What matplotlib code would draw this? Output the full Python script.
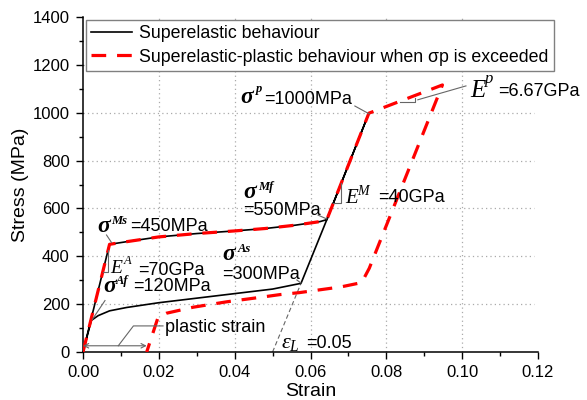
import matplotlib
matplotlib.use('Agg')
import matplotlib.pyplot as plt
from matplotlib.ticker import MultipleLocator, FormatStrFormatter

plt.rcParams['font.family'] = ['Liberation Sans', 'DejaVu Sans']
plt.rcParams['mathtext.fontset'] = 'custom'
plt.rcParams['mathtext.rm'] = 'Liberation Serif'
plt.rcParams['mathtext.it'] = 'Liberation Serif:italic'
plt.rcParams['mathtext.bf'] = 'Liberation Serif:bold:italic'

# ---- data ----
se_strain = [0, 0.007, 0.0115, 0.02, 0.03, 0.04, 0.048, 0.056, 0.0625, 0.0643, 0.0754,
             0.0643, 0.0575, 0.05, 0.04, 0.03, 0.02, 0.0115, 0.007, 0.004, 0.0022, 0]
se_stress = [0, 450, 461, 481, 495, 506, 516, 530, 545, 553, 998,
             553, 287, 263, 244, 225, 206, 186, 172, 152, 132, 0]

sp_strain = [0, 0.007, 0.0115, 0.02, 0.03, 0.04, 0.048, 0.056, 0.0625, 0.0643, 0.0754,
             0.0948, 0.0755, 0.0735, 0.068, 0.0625, 0.057, 0.052, 0.047, 0.038, 0.029,
             0.022, 0.0198, 0.0168]
sp_stress = [0, 450, 461, 481, 495, 506, 516, 530, 545, 553, 998,
             1116, 350, 290, 272, 260, 248, 240, 229, 210, 187,
             162, 145, 0]

epsL_strain = [0.05, 0.0575]
epsL_stress = [0, 287]

xticks = [0.00, 0.02, 0.04, 0.06, 0.08, 0.10, 0.12]
yticks = [0, 200, 400, 600, 800, 1000, 1200, 1400]

label_se = 'Superelastic behaviour'
label_sp = 'Superelastic-plastic behaviour when σp is exceeded'

fig = plt.figure(figsize=(5.87, 4.0), dpi=100)
ax = fig.add_axes([83 / 587, 48 / 400, 455 / 587, 335 / 400])
ax.set_xlim(0, 0.12)
ax.set_ylim(0, 1400)

# grid (dotted)
gkw = dict(color='#aaaaaa', lw=0.9, linestyle=(0, (1, 2.5)), zorder=0)
for xv in xticks[1:-1]:
    ax.plot([xv, xv], [0, 1400], **gkw)
for yv in yticks[1:-1]:
    ax.plot([0, 0.119], [yv, yv], **gkw)

# epsilon_L guide
ax.plot(epsL_strain, epsL_stress, color='#666666', lw=0.8, linestyle=(0, (4, 2.5)), zorder=1)

l1, = ax.plot(se_strain, se_stress, color='black', lw=1.2, zorder=2, label=label_se)
l2, = ax.plot(sp_strain, sp_stress, color='#ff0000', lw=2.3, linestyle=(0, (4.6, 3.4)),
              zorder=3, label=label_sp)

# slope triangles and leader lines
gray = '#666666'
lkw = dict(color=gray, lw=0.8, zorder=4)
ax.plot([0.0052, 0.0067, 0.0067], [336, 336, 428], **lkw)          # E^A
ax.plot([0.0660, 0.0680, 0.0680], [623, 623, 705], **lkw)          # E^M
ax.plot([0.0836, 0.0876, 0.0876], [1044, 1044, 1062], **lkw)       # E^p
ax.plot([0.0883, 0.1010], [1054, 1112], **lkw)                     # E^p leader
ax.plot([0.0717, 0.0755], [1028, 995], **lkw)                      # sigma^p
ax.plot([0.0620, 0.0643], [572, 556], **lkw)                       # sigma^Mf
ax.plot([0.0062, 0.0075], [489, 458], **lkw)                       # sigma^Ms
ax.plot([0.0564, 0.0575], [301, 288], **lkw)                       # sigma^As
ax.plot([0.0058, 0.0025], [215, 137], **lkw)                       # sigma^Af
ax.plot([0.0211, 0.0133, 0.0093], [109, 109, 26], **lkw)           # plastic strain
ax.annotate('', xy=(0.0, 26), xytext=(0.0168, 26),
            arrowprops=dict(arrowstyle='<->', color=gray, lw=0.8,
                            shrinkA=0, shrinkB=0, mutation_scale=8), zorder=4)

# annotation texts
serif_bi = dict(family='Liberation Serif', weight='bold', style='italic',
                ha='left', va='baseline')
serif_i = dict(family='Liberation Serif', style='italic', ha='left', va='baseline')
val = dict(fontsize=13, ha='left', va='baseline')


def sigma(x, y, sx, sy, sup):
    ax.text(x, y, 'σ', fontsize=17, **serif_bi)
    ax.text(sx, sy, sup, fontsize=9, **serif_bi)


def modulus(x, y, sx, sy, sup, size, supsize):
    ax.text(x, y, 'E', fontsize=size, **serif_i)
    ax.text(sx, sy, sup, fontsize=supsize, **serif_i)


sigma(0.0414, 1041, 0.0455, 1087, 'p')
ax.text(0.0478, 1036, '=1000MPa', **val)
modulus(0.1021, 1067, 0.1060, 1124, 'p', 18, 12)
ax.text(0.1094, 1070, '=6.67GPa', **val)
sigma(0.0422, 644, 0.0462, 677, 'Mf')
ax.text(0.0422, 572, '=550MPa', **val)
modulus(0.0691, 621, 0.0723, 656, 'M', 15, 10)
ax.text(0.0778, 628, '=40GPa', **val)
sigma(0.0037, 501, 0.0073, 535, 'Ms')
ax.text(0.0124, 506, '=450MPa', **val)
modulus(0.0071, 331, 0.0106, 366, 'A', 14, 9)
ax.text(0.0145, 322, '=70GPa', **val)
sigma(0.0053, 249, 0.0086, 283, 'Af')
ax.text(0.0131, 255, '=120MPa', **val)
sigma(0.0367, 384, 0.0407, 418, 'As')
ax.text(0.0367, 305, '=300MPa', **val)
ax.text(0.0216, 83, 'plastic strain', **val)
ax.text(0.0522, 17, r'$\varepsilon_{L}$', fontsize=16, ha='left', va='baseline')
ax.text(0.0588, 17, '=0.05', **val)

# axes styling
for s in ['top', 'right']:
    ax.spines[s].set_visible(False)
for s in ['left', 'bottom']:
    ax.spines[s].set_linewidth(1.1)
ax.set_xticks(xticks)
ax.set_yticks(yticks)
ax.xaxis.set_major_formatter(FormatStrFormatter('%.2f'))
ax.xaxis.set_minor_locator(MultipleLocator(0.01))
ax.yaxis.set_minor_locator(MultipleLocator(100))
ax.tick_params(which='major', direction='out', length=5, width=1, labelsize=12, pad=4.5)
ax.tick_params(which='minor', direction='out', length=3, width=1)
ax.set_xlabel('Strain', fontsize=14, labelpad=2)
ax.set_ylabel('Stress (MPa)', fontsize=14, labelpad=3)

leg = ax.legend(handles=[l1, l2], loc='upper left', bbox_to_anchor=(0.0066, 0.991),
                fontsize=12.8, frameon=True, fancybox=False, framealpha=1,
                edgecolor='#808080', borderaxespad=0, handlelength=2.3,
                handletextpad=0.4, labelspacing=0.35, borderpad=0.3)
leg.get_frame().set_linewidth(1.0)
leg.set_zorder(10)

fig.savefig('out.png', dpi=100)
